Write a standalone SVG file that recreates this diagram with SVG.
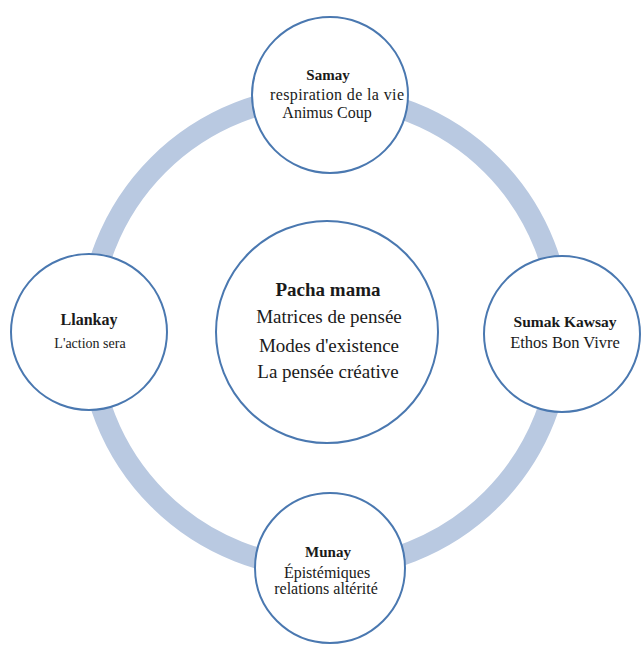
<svg xmlns="http://www.w3.org/2000/svg" width="641" height="646" viewBox="0 0 641 646">
<style>
.node{fill:#fff;stroke:#4a78b0;stroke-width:2}
.ring{fill:none;stroke:#b9c9e1;stroke-width:21}
text{font-family:"Liberation Serif","Times New Roman",serif;fill:#1a1a1a;text-anchor:middle}
.t{font-size:15px;font-weight:bold}
.s{font-size:16px}
.ct{font-size:19px;font-weight:bold}
.cs{font-size:19px}
</style>
<rect width="641" height="646" fill="#fff"/>
<g id="connectors">
<circle class="ring" cx="325" cy="332" r="236"/>
</g>
<g id="center">
<circle class="node" cx="327" cy="332" r="111"/>
<text class="ct" x="328" y="296">Pacha mama</text>
<text class="cs" x="329" y="323">Matrices de pensée</text>
<text class="cs" x="329" y="352">Modes d'existence</text>
<text class="cs" x="328" y="378">La pensée créative</text>
</g>
<g id="samay">
<circle class="node" cx="330" cy="95" r="78"/>
<text class="t" x="328" y="80">Samay</text>
<text class="s" x="337" y="100" textLength="134">respiration de la vie</text>
<text class="s" x="327" y="118">Animus Coup</text>
</g>
<g id="llankay">
<circle class="node" cx="89" cy="332" r="78"/>
<text class="t" x="89" y="325" style="font-size:16px">Llankay</text>
<text class="s" x="90" y="348" style="font-size:14px">L'action sera</text>
</g>
<g id="sumak">
<circle class="node" cx="562" cy="334" r="78"/>
<text class="t" x="565" y="327" style="font-size:15.5px">Sumak Kawsay</text>
<text class="s" x="565" y="348" style="font-size:16.5px">Ethos Bon Vivre</text>
</g>
<g id="munay">
<circle class="node" cx="330" cy="568" r="75"/>
<text class="t" x="328" y="557">Munay</text>
<text class="s" x="327" y="578">Épistémiques</text>
<text class="s" x="326" y="594">relations altérité</text>
</g>
</svg>
